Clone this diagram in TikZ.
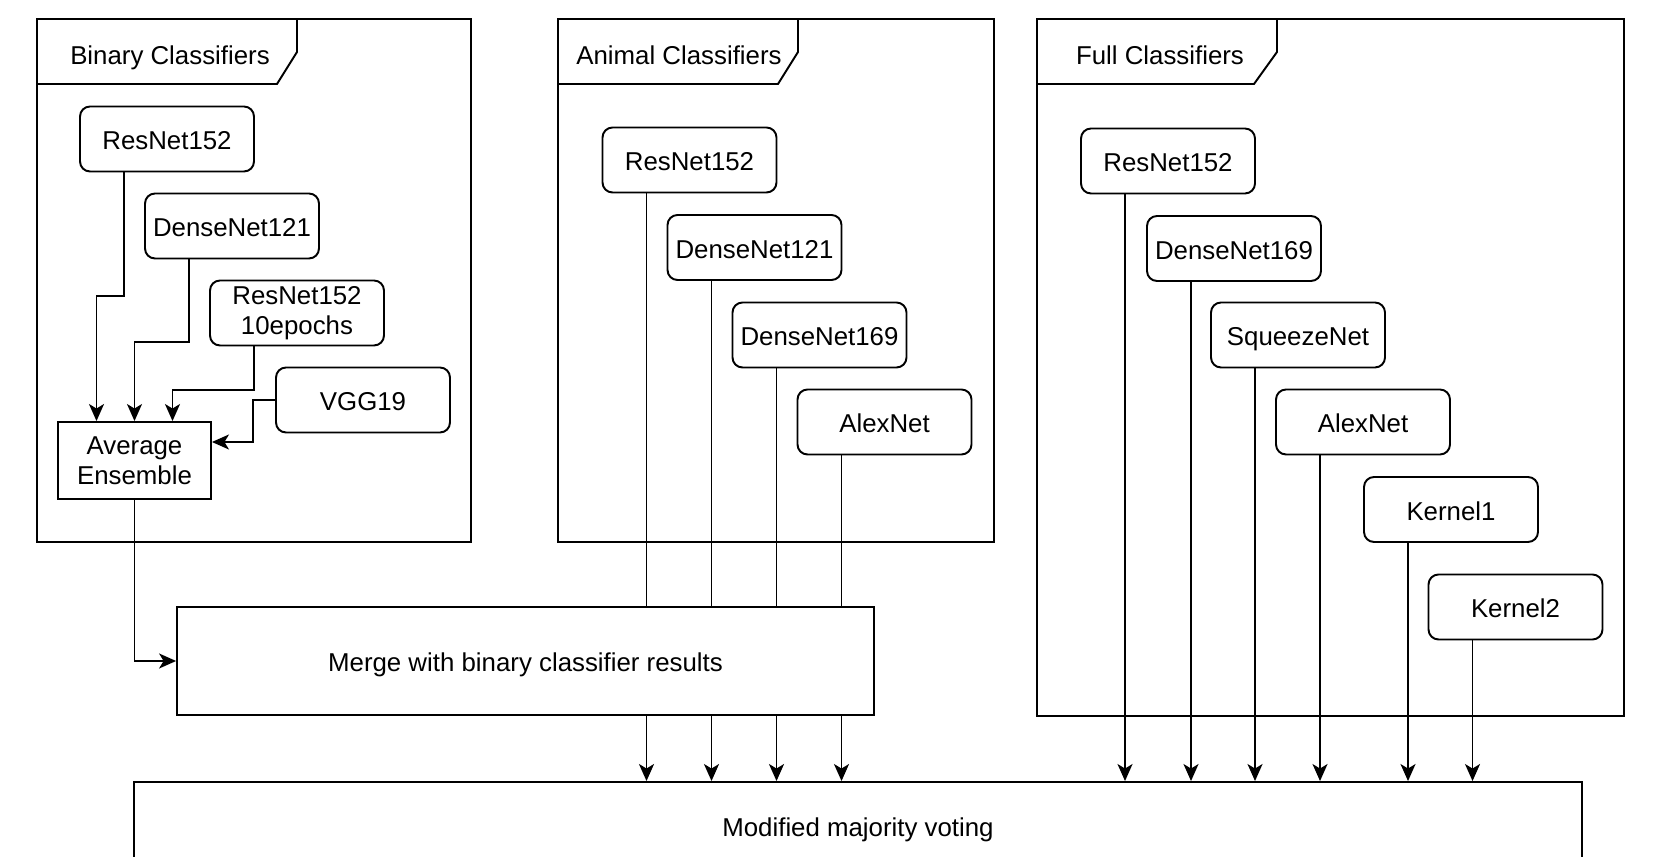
\documentclass[tikz,border=0pt]{standalone}
\usepackage{fontspec}
\setmainfont{Liberation Sans}
\usetikzlibrary{arrows.meta}

\tikzset{
  box/.style={draw,rounded corners=0.2cm,minimum width=3.48cm,minimum height=1.3cm,inner sep=0pt,align=center},
  clf/.style={box,text height=12pt,text depth=0pt},
  ttl/.style={text height=12pt,text depth=0pt},
  stage/.style={draw,inner sep=0pt,align=center},
}

\begin{document}
\begin{tikzpicture}[x=0.02cm,y=-0.02cm,>={Stealth[length=0.34cm,width=0.3cm,inset=0.09cm]},
  line width=1.1pt,font=\fontsize{14.7}{17}\selectfont]
  \useasboundingbox (0,0) rectangle (1654,857);
  % Binary Classifiers
  \draw (37,19) rectangle (471,542);
  \draw (37,84) -- (277,84) -- (297,52) -- (297,19);
  \node[ttl] (tbin) at (170,54) {Binary Classifiers};
  \node[clf] (bres) at (167,139) {ResNet152};
  \node[clf] (bden121) at (232,226) {DenseNet121};
  \node[box] (bres10) at (297,313) {ResNet152\\10epochs};
  \node[clf] (bvgg) at (363,400) {VGG19};
  \node[stage,minimum width=3.06cm,minimum height=1.54cm] (avg) at (134.5,460.5) {Average\\Ensemble};
  % Animal Classifiers
  \draw (558,19) rectangle (994,542);
  \draw (558,84) -- (778,84) -- (798,52) -- (798,19);
  \node[ttl] (tani) at (679,54) {Animal Classifiers};
  \node[clf] (ares) at (689.5,160) {ResNet152};
  \node[clf] (aden121) at (754.5,247.5) {DenseNet121};
  \node[clf] (aden169) at (819.5,335) {DenseNet169};
  \node[clf] (aalex) at (884.5,422) {AlexNet};
  % Full Classifiers
  \draw (1037,19) rectangle (1624,716);
  \draw (1037,84) -- (1254,84) -- (1277,52) -- (1277,19);
  \node[ttl] (tfull) at (1160,54) {Full Classifiers};
  \node[clf] (fres) at (1168,161) {ResNet152};
  \node[clf] (fden169) at (1234,248.5) {DenseNet169};
  \node[clf] (fsqz) at (1298,335) {SqueezeNet};
  \node[clf] (falex) at (1363,422) {AlexNet};
  \node[clf] (fk1) at (1451,509.5) {Kernel1};
  \node[clf] (fk2) at (1515.5,607) {Kernel2};
  % merge and voting
  \node[stage,minimum width=13.94cm,minimum height=2.16cm,text height=12pt,text depth=0pt] (merge) at (525.5,661) {Merge with binary classifier results};
  \node[stage,minimum width=28.96cm,minimum height=1.76cm,text height=12pt,text depth=0pt] (vote) at (858,826) {Modified majority voting};

  \draw[->] ([xshift=-0.86cm]bres.south) -- ++(0,124) -| ([xshift=-0.76cm]avg.north);
  \draw[->] ([xshift=-0.86cm]bden121.south) -- ++(0,83) -| (avg.north);
  \draw[->] ([xshift=-0.86cm]bres10.south) -- ++(0,44) -| ([xshift=0.76cm]avg.north);
  \draw[->] (bvgg.west) -- ++(-22,0) |- ([yshift=0.37cm]avg.east);
  \draw[->] (avg.south) |- (merge.west);

  \foreach \n in {ares,aden121,aden169,aalex}{
    \coordinate (p\n) at ([xshift=-0.86cm]\n.south);
    \draw (p\n) -- (p\n |- merge.north);
    \draw[->] (p\n |- merge.south) -- (p\n |- vote.north);
  }
  \foreach \n in {fres,fden169,fsqz,falex,fk1,fk2}{
    \coordinate (p\n) at ([xshift=-0.86cm]\n.south);
    \draw[->] (p\n) -- (p\n |- vote.north);
  }
\end{tikzpicture}
\end{document}
